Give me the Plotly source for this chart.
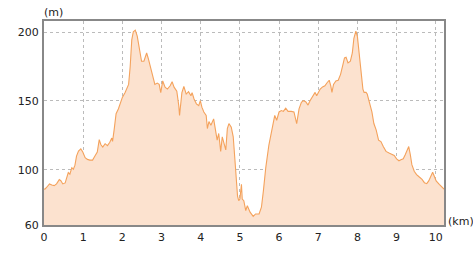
import plotly.graph_objects as go

dist_km = [0.0, 0.03, 0.07, 0.14, 0.2, 0.26, 0.32, 0.39, 0.43, 0.48, 0.54, 0.58, 0.62, 0.66, 0.71, 0.75,
           0.79, 0.83, 0.88, 0.94, 0.99, 1.05, 1.11, 1.17, 1.24, 1.3, 1.36, 1.41, 1.45, 1.5, 1.56, 1.62,
           1.68, 1.73, 1.75, 1.79, 1.84, 1.9, 1.96, 2.0, 2.07, 2.13, 2.16, 2.2, 2.24, 2.28, 2.33, 2.38,
           2.43, 2.49, 2.55, 2.62, 2.66, 2.72, 2.79, 2.83, 2.89, 2.94, 2.98, 3.03, 3.09, 3.15, 3.22, 3.27,
           3.32, 3.39, 3.44, 3.46, 3.52, 3.57, 3.63, 3.69, 3.75, 3.78, 3.83, 3.89, 3.95, 3.99, 4.03, 4.08,
           4.14, 4.17, 4.21, 4.26, 4.33, 4.37, 4.42, 4.46, 4.51, 4.55, 4.59, 4.64, 4.68, 4.72, 4.78, 4.83,
           4.87, 4.9, 4.94, 4.97, 5.0, 5.04, 5.06, 5.1, 5.15, 5.19, 5.26, 5.34, 5.4, 5.49, 5.55, 5.6,
           5.66, 5.74, 5.83, 5.89, 5.94, 6.0, 6.06, 6.11, 6.17, 6.23, 6.31, 6.38, 6.45, 6.51, 6.57, 6.62,
           6.68, 6.74, 6.79, 6.86, 6.92, 6.96, 7.0, 7.05, 7.11, 7.17, 7.23, 7.28, 7.32, 7.35, 7.39, 7.45,
           7.51, 7.57, 7.63, 7.67, 7.71, 7.76, 7.82, 7.87, 7.91, 7.96, 8.0, 8.05, 8.09, 8.14, 8.17, 8.22,
           8.25, 8.31, 8.37, 8.42, 8.48, 8.54, 8.6, 8.66, 8.73, 8.82, 8.89, 8.94, 9.0, 9.06, 9.11, 9.17,
           9.22, 9.27, 9.31, 9.35, 9.39, 9.45, 9.51, 9.58, 9.65, 9.71, 9.77, 9.82, 9.88, 9.92, 9.96, 10.01,
           10.09, 10.16, 10.21]

elev_m = [86, 86.2, 87.4, 89.8, 89, 88.6, 89.8, 92.9, 92.1, 89.8, 90.5, 93.8, 98, 96.9, 101.6, 100.5,
          103.4, 110, 113.6, 115.2, 112.9, 108.8, 107.6, 107.1, 107.1, 110, 112.9, 121.9, 118.4, 116.6, 119, 117.6,
          120, 123.1, 120.7, 129, 140.7, 144.3, 149, 152.6, 156.2, 159.8, 162, 175, 194.3, 200.2, 201.4, 197,
          187, 178.8, 178.8, 184.8, 181, 174, 165.7, 162, 163, 162, 156, 164.5, 160, 158.6, 161, 164,
          160, 157, 146.6, 139.5, 156, 160.5, 155, 156.7, 153.8, 156, 151.4, 147.9, 146.6, 150.2, 145.5, 142,
          139.5, 130, 135, 132.4, 137, 130, 121.6, 126.4, 113.4, 124, 120.5, 114.5, 130, 133.6, 131, 124,
          108.6, 94.3, 81, 77.6, 78.8, 89.5, 78.8, 77.6, 70.5, 74, 69.3, 66.2, 68, 68, 72.9, 84.8,
          101.4, 118, 130, 139.5, 136, 142, 143, 142.4, 144.8, 142.4, 142.4, 142, 133.6, 144.3, 149, 150.2,
          149.5, 147, 150.2, 153.8, 156.2, 153.8, 156.2, 158.6, 160.2, 161, 163.4, 165, 161, 156.2, 162, 164.5,
          165, 169.3, 176.4, 181.2, 181.7, 177.6, 178.8, 184.8, 195.5, 200.7, 196.6, 181.2, 169.3, 158.6, 156.2, 156.2,
          155, 147.9, 142, 133.6, 128.8, 121.6, 120.5, 116.9, 113.4, 112.1, 111, 110.5, 108, 106.6, 107.4, 108,
          111, 114.5, 116.9, 111, 103.8, 99, 96.6, 94.8, 93.1, 90.7, 90, 92, 95.5, 98.3, 95.5, 92,
          89.5, 87.6, 86]

x_ticks = [0, 1, 2, 3, 4, 5, 6, 7, 8, 9, 10]
y_ticks = [60, 100, 150, 200]

font = dict(family="DejaVu Sans, Verdana, sans-serif", size=11, color="#222222")

fig = go.Figure()
fig.add_trace(go.Scatter(
    x=dist_km, y=elev_m, mode="lines",
    line=dict(color="#F4A25C", width=1.1),
    fill="tozeroy", fillcolor="#FCE2CF",
    hoverinfo="skip",
))

fig.update_layout(
    width=473, height=256,
    margin=dict(l=44, r=29, t=21, b=28),
    paper_bgcolor="white", plot_bgcolor="white",
    showlegend=False,
    font=font,
    xaxis=dict(
        range=[0, 10.21], tickvals=x_ticks, ticktext=[str(v) for v in x_ticks],
        showgrid=True, gridcolor="#BBBBBB", griddash="dot", gridwidth=1,
        showline=True, linecolor="#888888", linewidth=2, mirror=True,
        ticks="", zeroline=False, tickfont=font, ticklabelstandoff=1,
    ),
    yaxis=dict(
        range=[60, 208], tickvals=y_ticks, ticktext=[str(v) for v in y_ticks],
        showgrid=True, gridcolor="#BBBBBB", griddash="dot", gridwidth=1,
        showline=True, linecolor="#888888", linewidth=2, mirror=True,
        ticks="", zeroline=False, tickfont=font, ticklabelstandoff=1,
    ),
    annotations=[
        dict(text="(m)", xref="paper", yref="paper", x=-0.005, y=1.043,
             xanchor="left", yanchor="middle", showarrow=False, font=font),
        dict(text="(km)", xref="paper", yref="paper", x=1.006, y=0.015,
             xanchor="left", yanchor="middle", showarrow=False, font=font),
    ],
)

fig.write_html("out.html")
